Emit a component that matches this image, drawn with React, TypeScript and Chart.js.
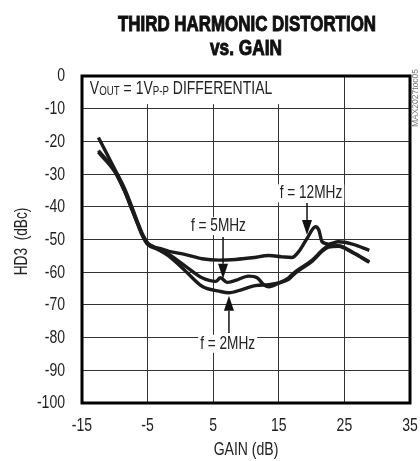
import React, { useEffect, useRef } from "react";
import { Chart, registerables } from "chart.js";

Chart.register(...registerables);

const FONT = "'Liberation Sans', Arial, Helvetica, sans-serif";
const NARROW = 0.78;

// Axis ticks
const xTicks = [-15, -5, 5, 15, 25, 35];
const yMin = -100;
const yMax = 0;

// f = 12MHz
const gain12 = [-12.5, -10, -8.5, -7.5, -6.5, -5.75, -5, -4, -3, -1.75, 0.8, 3.3, 5.9, 8.4, 10.9, 13.5, 15.5, 17, 18, 19.3, 20.6, 21.1, 21.6, 22.6, 24.1, 26.2, 28.8];
const hd12 = [-18.8, -28.5, -34.5, -39.5, -44.8, -48.5, -51, -52.3, -52.8, -53.6, -54.6, -55.9, -56.3, -56.1, -55.6, -54.9, -55.3, -55.5, -53.8, -49.7, -46.1, -47.1, -50.7, -51.4, -50.7, -51.4, -53.3];

// f = 5MHz
const gain5 = [-12.5, -10, -8.5, -7.5, -6.5, -5.75, -5, -3.5, -1.75, 0.8, 3.3, 5.4, 6.1, 7.1, 8.4, 10.4, 11.7, 12.7, 13.5, 15, 16.5, 17.5, 20.1, 21.6, 22.6, 24.1, 26.2, 28.8];
const hd5 = [-22.8, -29, -35.1, -40.1, -45.2, -48.8, -51.3, -52.7, -54.6, -58.2, -61.7, -62.8, -61.7, -63.1, -62.5, -61.2, -61.7, -63.8, -64.5, -63.3, -61.7, -59.9, -56.3, -53.3, -52, -51.9, -53.8, -56.8];

// f = 2MHz
const gain2 = [-12.5, -10, -8.5, -7.5, -6.5, -5.75, -5, -3.5, -1.75, 0.8, 3.3, 5.9, 7.4, 9.4, 11.4, 13.5, 15, 16.5, 17.5, 20.1, 21.6, 22.6, 24.1, 26.2, 28.8];
const hd2 = [-23.3, -29.3, -35.3, -40.3, -45.4, -49, -51.5, -53, -55.1, -59.7, -64.3, -65.8, -66.3, -65.3, -64.1, -63.8, -63.3, -62.2, -60.3, -56.6, -53.6, -52.3, -52.1, -54, -57];

// Annotation anchors (data units)
const labels = [
  { text: "f = 12MHz", gain: 19.9, db: -35.9 },
  { text: "f = 5MHz", gain: 5.8, db: -45.9 },
  { text: "f = 2MHz", gain: 7.2, db: -81.9 },
];
const arrows = [
  { gain: 19.3, fromDb: -38.8, tipDb: -48.6 },
  { gain: 6.5, fromDb: -49.2, tipDb: -62.0 },
  { gain: 7.4, fromDb: -78.6, tipDb: -67.2 },
];
const noteBox = { gainRight: 15.5, dbBottom: -8.6 };

const LABEL_FONT = `17.5px ${FONT}`;
const toPts = (xs: number[], ys: number[]) => xs.map((x, i) => ({ x, y: ys[i] }));

function narrowText(
  ctx: CanvasRenderingContext2D,
  t: string,
  x: number,
  y: number,
  font: string,
  align: CanvasTextAlign,
  sx: number,
  baseline: CanvasTextBaseline = "middle"
) {
  ctx.save();
  ctx.font = font;
  ctx.translate(x, y);
  ctx.scale(sx, 1);
  ctx.textAlign = align;
  ctx.textBaseline = baseline;
  ctx.fillText(t, 0, 0);
  ctx.restore();
}

export default function App() {
  const ref = useRef<HTMLCanvasElement | null>(null);

  useEffect(() => {
    document.body.style.margin = "0";
    const canvas = ref.current;
    if (!canvas) return;

    const plugin = {
      id: "decor",
      beforeDatasetsDraw(chart: any) {
        const { ctx, chartArea: a, scales } = chart;
        const xr = scales.x.getPixelForValue(noteBox.gainRight);
        const yb = scales.y.getPixelForValue(noteBox.dbBottom);
        ctx.save();
        ctx.fillStyle = "#fff";
        ctx.fillRect(a.left, a.top, xr - a.left, yb - a.top);
        // white boxes behind curve labels
        ctx.font = LABEL_FONT;
        for (const l of labels) {
          const w = ctx.measureText(l.text).width * NARROW + 4;
          const x = scales.x.getPixelForValue(l.gain);
          const y = scales.y.getPixelForValue(l.db);
          ctx.fillRect(x - w / 2, y - 9, w, 18);
        }
        ctx.restore();
      },
      afterDraw(chart: any) {
        const { ctx, chartArea: a, scales } = chart;
        const xs = scales.x;
        const ys = scales.y;
        ctx.save();
        // frame
        ctx.strokeStyle = "#000";
        ctx.lineWidth = 3;
        ctx.strokeRect(a.left, a.top, a.right - a.left, a.bottom - a.top);

        const cx = (a.left + a.right) / 2;

        // tick labels
        ctx.fillStyle = "#222";
        const tickFont = `18px ${FONT}`;
        for (const t of ys.ticks) {
          narrowText(ctx, String(t.value), a.left - 17, ys.getPixelForValue(t.value) + 0.5, tickFont, "right", NARROW);
        }
        for (const t of xs.ticks) {
          narrowText(ctx, String(t.value), xs.getPixelForValue(t.value), a.bottom + 23.5, tickFont, "center", NARROW);
        }

        // Title
        const fitText = (t: string, x: number, y: number, w: number, font: string) => {
          ctx.font = font;
          const m = ctx.measureText(t).width;
          ctx.save();
          ctx.translate(x, y);
          ctx.scale(w / m, 1);
          ctx.textAlign = "center";
          ctx.textBaseline = "alphabetic";
          ctx.fillText(t, 0, 0);
          ctx.lineWidth = 1;
          ctx.strokeStyle = "#111";
          ctx.strokeText(t, 0, 0);
          ctx.restore();
        };
        ctx.fillStyle = "#111";
        fitText("THIRD HARMONIC DISTORTION", cx + 1, 31, 258, `bold 22px ${FONT}`);
        fitText("vs. GAIN", cx, 55, 72, `bold 22px ${FONT}`);

        // VOUT note
        const big = `18px ${FONT}`;
        const small = `12.5px ${FONT}`;
        const parts: [string, string, number][] = [
          ["V", big, 0],
          ["OUT", small, 1.5],
          [" = 1V", big, 0],
          ["P-P", small, 1.5],
          [" DIFFERENTIAL", big, 0],
        ];
        let total = 0;
        for (const [t, f] of parts) {
          ctx.font = f;
          total += ctx.measureText(t).width;
        }
        const startX = xs.getPixelForValue(-13.8);
        const endX = xs.getPixelForValue(14.0);
        const sc = (endX - startX) / total;
        const base = ys.getPixelForValue(-5.5);
        ctx.save();
        ctx.translate(startX, base);
        ctx.scale(sc, 1);
        ctx.fillStyle = "#222";
        ctx.textAlign = "left";
        ctx.textBaseline = "alphabetic";
        let px = 0;
        for (const [t, f, dy] of parts) {
          ctx.font = f;
          ctx.fillText(t, px, dy);
          px += ctx.measureText(t).width;
        }
        ctx.restore();

        // curve labels
        ctx.fillStyle = "#222";
        for (const l of labels) {
          narrowText(ctx, l.text, xs.getPixelForValue(l.gain), ys.getPixelForValue(l.db), LABEL_FONT, "center", NARROW);
        }
        // arrows
        ctx.strokeStyle = "#111";
        ctx.fillStyle = "#111";
        ctx.lineWidth = 1.5;
        for (const ar of arrows) {
          const x = xs.getPixelForValue(ar.gain);
          const y0 = ys.getPixelForValue(ar.fromDb);
          const y1 = ys.getPixelForValue(ar.tipDb);
          const dir = y1 > y0 ? 1 : -1;
          const hl = 15;
          const hw = 5;
          ctx.beginPath();
          ctx.moveTo(x, y0);
          ctx.lineTo(x, y1 - dir * hl);
          ctx.stroke();
          ctx.beginPath();
          ctx.moveTo(x, y1);
          ctx.lineTo(x - hw, y1 - dir * hl);
          ctx.lineTo(x + hw, y1 - dir * hl);
          ctx.closePath();
          ctx.fill();
        }

        // axis titles
        ctx.fillStyle = "#222";
        narrowText(ctx, "GAIN (dB)", cx, 450, `18px ${FONT}`, "center", NARROW);
        ctx.save();
        ctx.translate(22, (a.top + a.bottom) / 2 + 2);
        ctx.rotate(-Math.PI / 2);
        narrowText(ctx, "HD3  (dBc)", 0, 0, `17.5px ${FONT}`, "center", NARROW);
        ctx.restore();

        // side code
        ctx.save();
        ctx.translate(416, 98);
        ctx.rotate(-Math.PI / 2);
        ctx.font = `8.5px ${FONT}`;
        ctx.fillStyle = "#777";
        ctx.textAlign = "center";
        ctx.textBaseline = "middle";
        ctx.fillText("MAX2027toc05", 0, 0);
        ctx.restore();

        ctx.restore();
      },
    };

    const lineStyle = {
      borderColor: "#1b1b1b",
      borderWidth: 3.4,
      pointRadius: 0,
      fill: false,
      cubicInterpolationMode: "monotone" as const,
    };

    const chart = new Chart(canvas, {
      type: "line",
      data: {
        datasets: [
          { label: "f = 12MHz", data: toPts(gain12, hd12), ...lineStyle },
          { label: "f = 5MHz", data: toPts(gain5, hd5), ...lineStyle },
          { label: "f = 2MHz", data: toPts(gain2, hd2), ...lineStyle },
        ],
      },
      options: {
        responsive: false,
        animation: false,
        layout: { padding: { top: 76, right: 10, left: 0, bottom: 0 } },
        plugins: { legend: { display: false }, tooltip: { enabled: false }, title: { display: false } },
        scales: {
          x: {
            type: "linear",
            min: xTicks[0],
            max: xTicks[xTicks.length - 1],
            afterBuildTicks: (s: any) => {
              s.ticks = xTicks.map((v) => ({ value: v }));
            },
            afterFit: (s: any) => {
              s.height = 58;
            },
            grid: { color: "#333", lineWidth: 1, drawTicks: false },
            border: { display: false },
            ticks: { display: false, autoSkip: false, maxRotation: 0 },
          },
          y: {
            type: "linear",
            min: yMin,
            max: yMax,
            afterFit: (s: any) => {
              s.width = 82;
            },
            grid: { color: "#333", lineWidth: 1, drawTicks: false },
            border: { display: false },
            ticks: { display: false, stepSize: 10 },
          },
        },
      },
      plugins: [plugin],
    });
    return () => chart.destroy();
  }, []);

  return <canvas ref={ref} width={420} height={461} style={{ display: "block" }} />;
}
